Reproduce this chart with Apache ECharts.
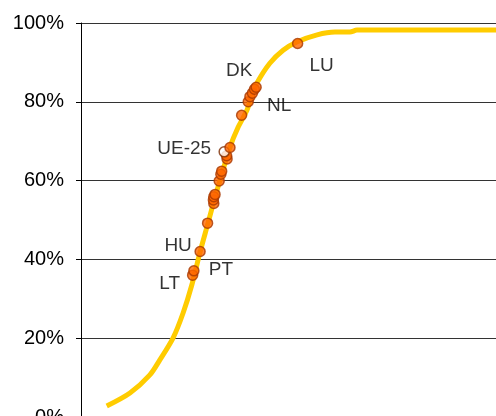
<!DOCTYPE html>
<html>
<head>
<meta charset="utf-8">
<script src="https://cdn.jsdelivr.net/npm/echarts@6/dist/echarts.min.js"></script>
<style>
  html, body { margin: 0; padding: 0; background: #fff; }
  #main { width: 496px; height: 416px; }
</style>
</head>
<body>
<div id="main"></div>
<script>
// curve (cumulative distribution), x on a 0-100 scale, y in %
var curveX = [6.2, 11.8, 16.6, 19.0, 22.2, 24.6, 26.7, 28.7, 30.6, 32.3, 34.0, 35.9, 37.8, 40.0, 41.2, 42.4, 45.5, 48.7, 52.0, 56.9, 61.2, 64.8, 66.5, 100.5]
var curveY = [2.8, 6.1, 10.7, 14.5, 20.1, 26.4, 33.5, 41.9, 49.2, 55.8, 61.9, 68.5, 73.4, 77.9, 81.7, 84.8, 89.8, 93.1, 95.2, 97.0, 97.7, 97.7, 98.2, 98.2]

// country points
var pointX = [26.9, 27.2, 28.7, 30.5, 32.0, 31.9, 32.0, 32.3, 33.3, 33.7, 33.9, 35.2, 35.1, 34.5, 35.9, 38.7, 40.3, 40.7, 41.3, 41.8, 42.2, 52.2]
var pointY = [36.0, 37.1, 42.0, 49.2, 54.2, 55.1, 55.9, 56.5, 59.9, 61.6, 62.4, 65.5, 66.3, 67.3, 68.4, 76.6, 80.0, 81.3, 82.2, 83.2, 83.7, 94.8]
var pointNames = ['LT', 'PT', 'HU', '', '', '', '', '', '', '', '', '', '', 'UE-25', '', '', 'NL', '', '', '', 'DK', 'LU']

var yTicks = [0, 20, 40, 60, 80, 100]

// where each label sits relative to its marker
var labelOffsets = {
  'LT': [-23, 9],
  'PT': [27, -1],
  'HU': [-22, -6],
  'UE-25': [-40, -3],
  'NL': [31, 4],
  'DK': [-17, -16],
  'LU': [24, 22]
}

var chart = echarts.init(document.getElementById('main'))

var curveData = curveX.map(function (x, i) { return [x, curveY[i]] })
var pointData = pointX.map(function (x, i) {
  var item = { value: [x, pointY[i]], name: pointNames[i] }
  if (pointNames[i]) {
    item.label = { show: true, offset: labelOffsets[pointNames[i]] }
  }
  if (pointNames[i] === 'UE-25') {
    item.itemStyle = { color: '#fff', borderColor: '#7a2a00' }
  }
  return item
})

chart.setOption({
  animation: false,
  grid: { left: 81, right: 0, top: 23, height: 394, outerBoundsMode: 'none', containLabel: false },
  xAxis: {
    type: 'value',
    min: 0,
    max: 100,
    show: false
  },
  yAxis: {
    type: 'value',
    min: yTicks[0],
    max: yTicks[yTicks.length - 1],
    interval: 20,
    axisLine: { show: true, lineStyle: { color: '#000', width: 1 } },
    axisTick: { show: true, length: 5, lineStyle: { color: '#000' } },
    axisLabel: {
      formatter: '{value}%',
      color: '#000',
      fontSize: 20,
      fontFamily: 'Liberation Sans, Arial, sans-serif',
      margin: 17
    },
    splitLine: { show: true, lineStyle: { color: '#333', width: 1 } }
  },
  series: [
    {
      type: 'line',
      data: curveData,
      smooth: 0.3,
      showSymbol: false,
      lineStyle: { color: '#ffcc00', width: 5 },
      z: 2
    },
    {
      type: 'scatter',
      data: pointData,
      symbolSize: 10,
      itemStyle: { color: '#ff6600', borderColor: '#a83800', borderWidth: 1.5 },
      label: {
        show: false,
        position: 'inside',
        formatter: '{b}',
        color: '#000',
        fontSize: 19,
        fontFamily: 'Liberation Sans, Arial, sans-serif'
      },
      z: 3
    }
  ]
})
</script>
</body>
</html>
